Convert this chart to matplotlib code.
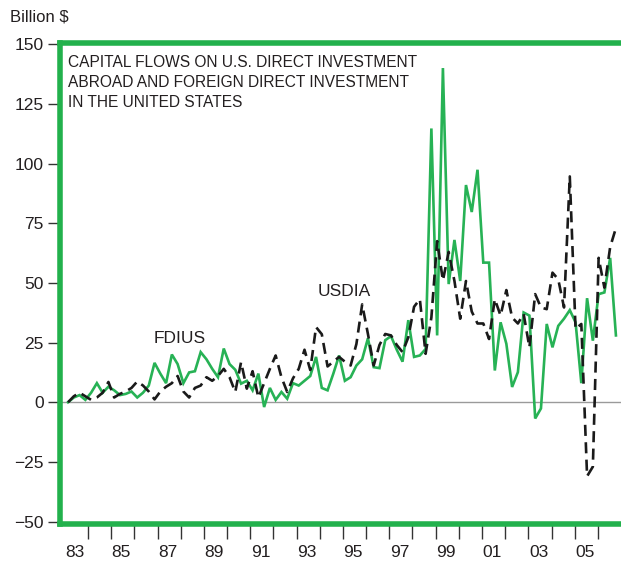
import numpy as np
import matplotlib
matplotlib.use("Agg")
import matplotlib.pyplot as plt
from matplotlib import font_manager

# ---------------- data (quarterly, 1983Q1 .. 2006Q4), billion $ ----------------
start_year = 1983
usdia = [0, 2.5, 4, 2.5, 1, 2, 4, 8.5, 2, 3.5, 4.5, 6, 8.7, 7, 4.5, 1.2,
         4.5, 6.5, 8, 11, 4.5, 2, 6, 7, 10.5, 9, 11, 14, 10.5, 4.3, 16.8, 5.7,
         13, 2, 8, 14, 19.6, 10.5, 4.3, 10, 14, 22, 13.5, 31.5, 28.5, 15, 17, 19,
         17, 15.4, 24.4, 41, 28.6, 15.4, 24, 28.6, 28, 24, 21, 27.2, 40, 43.2, 20.3, 35.5,
         67.5, 51, 63, 50.8, 35, 50.8, 38, 33, 33, 26.5, 43.2, 36.3, 47, 35.5, 33, 37,
         23, 45.3, 39.7, 39, 54.3, 51.5, 39.7, 94.6, 30.7, 32.8, -31, -27, 60.5, 48, 65, 73]
fdius = [0, 2, 3, 1, 4, 8, 4, 6.5, 5, 3, 3.5, 4.5, 2, 4, 7, 16.5,
         12, 8, 20, 16, 8, 12.5, 13, 21, 18, 14, 10.5, 22.5, 16, 13.6, 7.8, 9,
         5, 12, -2, 6, 1, 4.3, 1.5, 8, 7, 9, 11, 19, 6, 5, 12, 19.6,
         9, 10.5, 15.4, 18, 26.8, 14.7, 14.3, 26, 27.7, 22, 17, 34.4, 19, 19.6, 22.3, 114.7,
         28, 140, 49.5, 68, 50.8, 91, 79.7, 97.4, 58.5, 58.5, 13.3, 33.5, 24.5, 6.4, 12.6, 37.6,
         36.3, -6.8, -2.6, 32.8, 23, 32, 35, 38.6, 33.5, 8, 43.6, 25.8, 45.3, 46, 60.5, 28]
year_labels = ["83", "85", "87", "89", "91", "93", "95", "97", "99", "01", "03", "05"]
label_years = [1983, 1985, 1987, 1989, 1991, 1993, 1995, 1997, 1999, 2001, 2003, 2005]
yticks = [-50, -25, 0, 25, 50, 75, 100, 125, 150]
ytick_labels = ["\u221250", "\u221225", "0", "25", "50", "75", "100", "125", "150"]
title_text = ("CAPITAL FLOWS ON U.S. DIRECT INVESTMENT\n"
              "ABROAD AND FOREIGN DIRECT INVESTMENT\n"
              "IN THE UNITED STATES")

# ---------------- style ----------------
avail = {f.name for f in font_manager.fontManager.ttflist}
fam = [f for f in ["Liberation Sans Narrow", "Liberation Sans", "DejaVu Sans"] if f in avail]
plt.rcParams["font.family"] = fam
GREEN = "#22b14c"
TXT = "#231f20"

W, H = 621, 563
fig = plt.figure(figsize=(W / 100, H / 100), dpi=100)
ax = fig.add_axes([60.3 / W, (H - 524) / H, (W - 60.3) / W, (524 - 43) / H])

n = len(usdia)
x = start_year + 0.14 + np.arange(n) * 0.2488

ax.axhline(0, color="#9a9a9a", lw=1.0, zorder=1)
ax.plot(x, fdius, color="#27b255", lw=1.9, zorder=3, solid_joinstyle="miter")
ax.plot(x, usdia, color="#1a1a1a", lw=1.9, dashes=(4.2, 2.4), zorder=4)

ax.set_xlim(1982.806, 2006.995)
ax.set_ylim(-51, 150.5)

for s in ["top", "left", "bottom"]:
    ax.spines[s].set_color(GREEN)
    ax.spines[s].set_linewidth(4.0)
ax.spines["right"].set_visible(False)

ax.set_yticks(yticks)
ax.set_yticklabels(ytick_labels, fontsize=12.5, color=TXT)
ax.tick_params(axis="y", direction="out", length=8.8, width=1.0, color="#333333", pad=3)

ax.set_xticks(np.arange(1984, 2007))
ax.set_xticklabels([])
ax.tick_params(axis="x", which="major", direction="out", length=11, width=1.0, color="#333333")
ax.set_xticks([y + 0.44 for y in label_years], minor=True)
ax.set_xticklabels(year_labels, minor=True, fontsize=12.5, color=TXT)
ax.tick_params(axis="x", which="minor", length=0, pad=15)

ax.text(0.0135, 0.975, title_text, transform=ax.transAxes, ha="left", va="top",
        fontsize=11.2, color=TXT, linespacing=1.42)
ax.text(1987.95, 26.8, "FDIUS", ha="center", va="center", fontsize=12.5, color=TXT)
ax.text(1995.05, 46.3, "USDIA", ha="center", va="center", fontsize=12.5, color=TXT)
fig.text(10 / W, 1 - 17 / H, "Billion $", ha="left", va="center", fontsize=12, color=TXT)

fig.savefig("out.png", dpi=100)
